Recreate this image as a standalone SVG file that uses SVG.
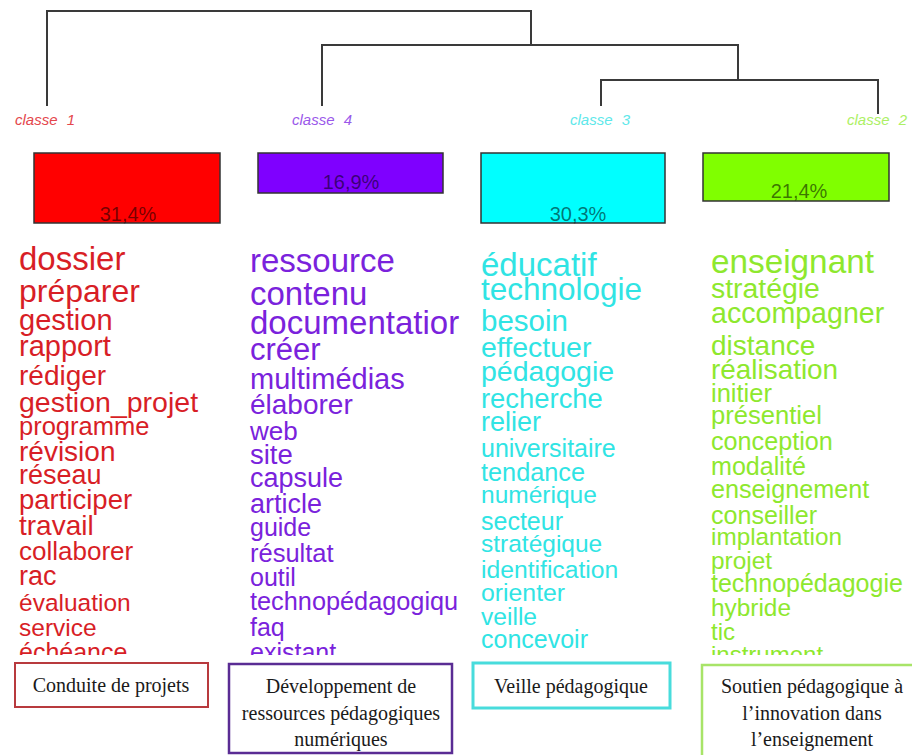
<svg xmlns="http://www.w3.org/2000/svg" width="912" height="755" viewBox="0 0 912 755">
<defs>
<style>
.dl{stroke:#3a3a3a;stroke-width:2;fill:none}
.cl{font-family:"Liberation Sans",Arial,sans-serif;font-style:italic;font-size:15px;text-anchor:middle;word-spacing:5px}
.bar{stroke:#333;stroke-width:1.5}
.pct{font-family:"Liberation Sans",Arial,sans-serif;font-size:20px;text-anchor:middle;fill:#000;fill-opacity:0.55}
.w{font-family:"Liberation Sans",Arial,sans-serif}
.c1{fill:#d81e26}.c4{fill:#7a22dc}.c3{fill:#30e4e4}.c2{fill:#8ee82e}
.lb{font-family:"Liberation Serif","Times New Roman",serif;font-size:20px;text-anchor:middle;fill:#1a1a1a}
</style>
<clipPath id="cloud"><rect x="0" y="230" width="912" height="425"/></clipPath>
</defs>
<rect width="912" height="755" fill="#fff"/>

<g id="connectors">
<polyline class="dl" points="47,106 47,11 531,11 531,45"/>
<polyline class="dl" points="322,106 322,45 738,45 738,80"/>
<polyline class="dl" points="601,106 601,80 878,80 878,114"/>
</g>

<g id="classe1">
<text class="cl" x="45" y="125" fill="#e4464c">classe 1</text>
<rect class="bar" x="34" y="153" width="186" height="70" fill="#ff0000"/>
<text class="pct" x="128" y="221">31,4%</text>
</g>
<g id="classe4">
<text class="cl" x="322" y="125" fill="#9a58ea">classe 4</text>
<rect class="bar" x="258" y="153" width="185" height="40" fill="#7f00ff"/>
<text class="pct" x="351" y="189">16,9%</text>
</g>
<g id="classe3">
<text class="cl" x="600" y="125" fill="#5ee8ea">classe 3</text>
<rect class="bar" x="481" y="153" width="184" height="70" fill="#00ffff"/>
<text class="pct" x="578" y="221">30,3%</text>
</g>
<g id="classe2">
<text class="cl" x="877" y="125" fill="#acf064">classe 2</text>
<rect class="bar" x="703" y="153" width="186" height="48" fill="#80ff00"/>
<text class="pct" x="799" y="198">21,4%</text>
</g>

<g id="words1" class="w c1" clip-path="url(#cloud)">
<text x="19" y="270" font-size="33">dossier</text>
<text x="19" y="302" font-size="32">préparer</text>
<text x="19" y="330" font-size="29">gestion</text>
<text x="19" y="356" font-size="29">rapport</text>
<text x="19" y="385" font-size="28">rédiger</text>
<text x="19" y="412" font-size="28.5">gestion_projet</text>
<text x="19" y="435" font-size="25.5">programme</text>
<text x="19" y="461" font-size="28">révision</text>
<text x="19" y="484" font-size="27">réseau</text>
<text x="19" y="509" font-size="27.5">participer</text>
<text x="19" y="535" font-size="28">travail</text>
<text x="19" y="560" font-size="26">collaborer</text>
<text x="19" y="585" font-size="27">rac</text>
<text x="19" y="611" font-size="24.5">évaluation</text>
<text x="19" y="636" font-size="24.5">service</text>
<text x="19" y="661" font-size="25">échéance</text>
</g>

<g id="words4" class="w c4" clip-path="url(#cloud)">
<text x="250" y="272" font-size="33">ressource</text>
<text x="250" y="305" font-size="33">contenu</text>
<text x="250" y="334" font-size="33">documentatior</text>
<text x="250" y="360" font-size="31">créer</text>
<text x="250" y="389" font-size="29">multimédias</text>
<text x="250" y="414" font-size="28">élaborer</text>
<text x="250" y="440" font-size="26">web</text>
<text x="250" y="464" font-size="27.5">site</text>
<text x="250" y="487" font-size="27">capsule</text>
<text x="250" y="513" font-size="27">article</text>
<text x="250" y="536" font-size="25">guide</text>
<text x="250" y="562" font-size="25.5">résultat</text>
<text x="250" y="586" font-size="25">outil</text>
<text x="250" y="610" font-size="25.3">technopédagogiqu</text>
<text x="250" y="636" font-size="25">faq</text>
<text x="250" y="661" font-size="25">existant</text>
</g>

<g id="words3" class="w c3" clip-path="url(#cloud)">
<text x="481" y="276" font-size="33">éducatif</text>
<text x="481" y="300" font-size="31.5">technologie</text>
<text x="481" y="331" font-size="29.5">besoin</text>
<text x="481" y="357" font-size="28.5">effectuer</text>
<text x="481" y="381" font-size="28.5">pédagogie</text>
<text x="481" y="408" font-size="27.4">recherche</text>
<text x="481" y="431" font-size="27">relier</text>
<text x="481" y="457" font-size="25">universitaire</text>
<text x="481" y="481" font-size="25.3">tendance</text>
<text x="481" y="503" font-size="24.5">numérique</text>
<text x="481" y="530" font-size="25">secteur</text>
<text x="481" y="552" font-size="24.5">stratégique</text>
<text x="481" y="578" font-size="24.7">identification</text>
<text x="481" y="601" font-size="24.8">orienter</text>
<text x="481" y="625" font-size="24.6">veille</text>
<text x="481" y="648" font-size="25">concevoir</text>
</g>

<g id="words2" class="w c2" clip-path="url(#cloud)">
<text x="711" y="273" font-size="33.3">enseignant</text>
<text x="711" y="298" font-size="28.4">stratégie</text>
<text x="711" y="323" font-size="28.6">accompagner</text>
<text x="711" y="355" font-size="28">distance</text>
<text x="711" y="379" font-size="27.9">réalisation</text>
<text x="711" y="402" font-size="25.5">initier</text>
<text x="711" y="424" font-size="25.6">présentiel</text>
<text x="711" y="450" font-size="25.2">conception</text>
<text x="711" y="475" font-size="25.1">modalité</text>
<text x="711" y="498" font-size="25.2">enseignement</text>
<text x="711" y="524" font-size="25.1">conseiller</text>
<text x="711" y="545" font-size="24.3">implantation</text>
<text x="711" y="569" font-size="24.4">projet</text>
<text x="711" y="592" font-size="25">technopédagogie</text>
<text x="711" y="616" font-size="24.4">hybride</text>
<text x="711" y="640" font-size="24">tic</text>
<text x="711" y="663" font-size="24">instrument</text>
</g>

<g id="label1">
<rect x="15" y="663" width="193" height="44" fill="#fff" stroke="#b83a3e" stroke-width="2"/>
<text class="lb" x="111" y="692">Conduite de projets</text>
</g>
<g id="label4">
<rect x="229" y="664" width="223" height="89" fill="#fff" stroke="#5a2c94" stroke-width="2.5"/>
<text class="lb" x="341" y="693">Développement de</text>
<text class="lb" x="341" y="720">ressources pédagogiques</text>
<text class="lb" x="341" y="746">numériques</text>
</g>
<g id="label3">
<rect x="473" y="663" width="197" height="45" fill="#fff" stroke="#48dcdc" stroke-width="3"/>
<text class="lb" x="571" y="693">Veille pédagogique</text>
</g>
<g id="label2">
<rect x="702" y="665" width="220" height="100" fill="#fff" stroke="#a8e468" stroke-width="2.5"/>
<text class="lb" x="812" y="693">Soutien pédagogique à</text>
<text class="lb" x="812" y="720">l’innovation dans</text>
<text class="lb" x="812" y="746">l’enseignement</text>
</g>
</svg>
